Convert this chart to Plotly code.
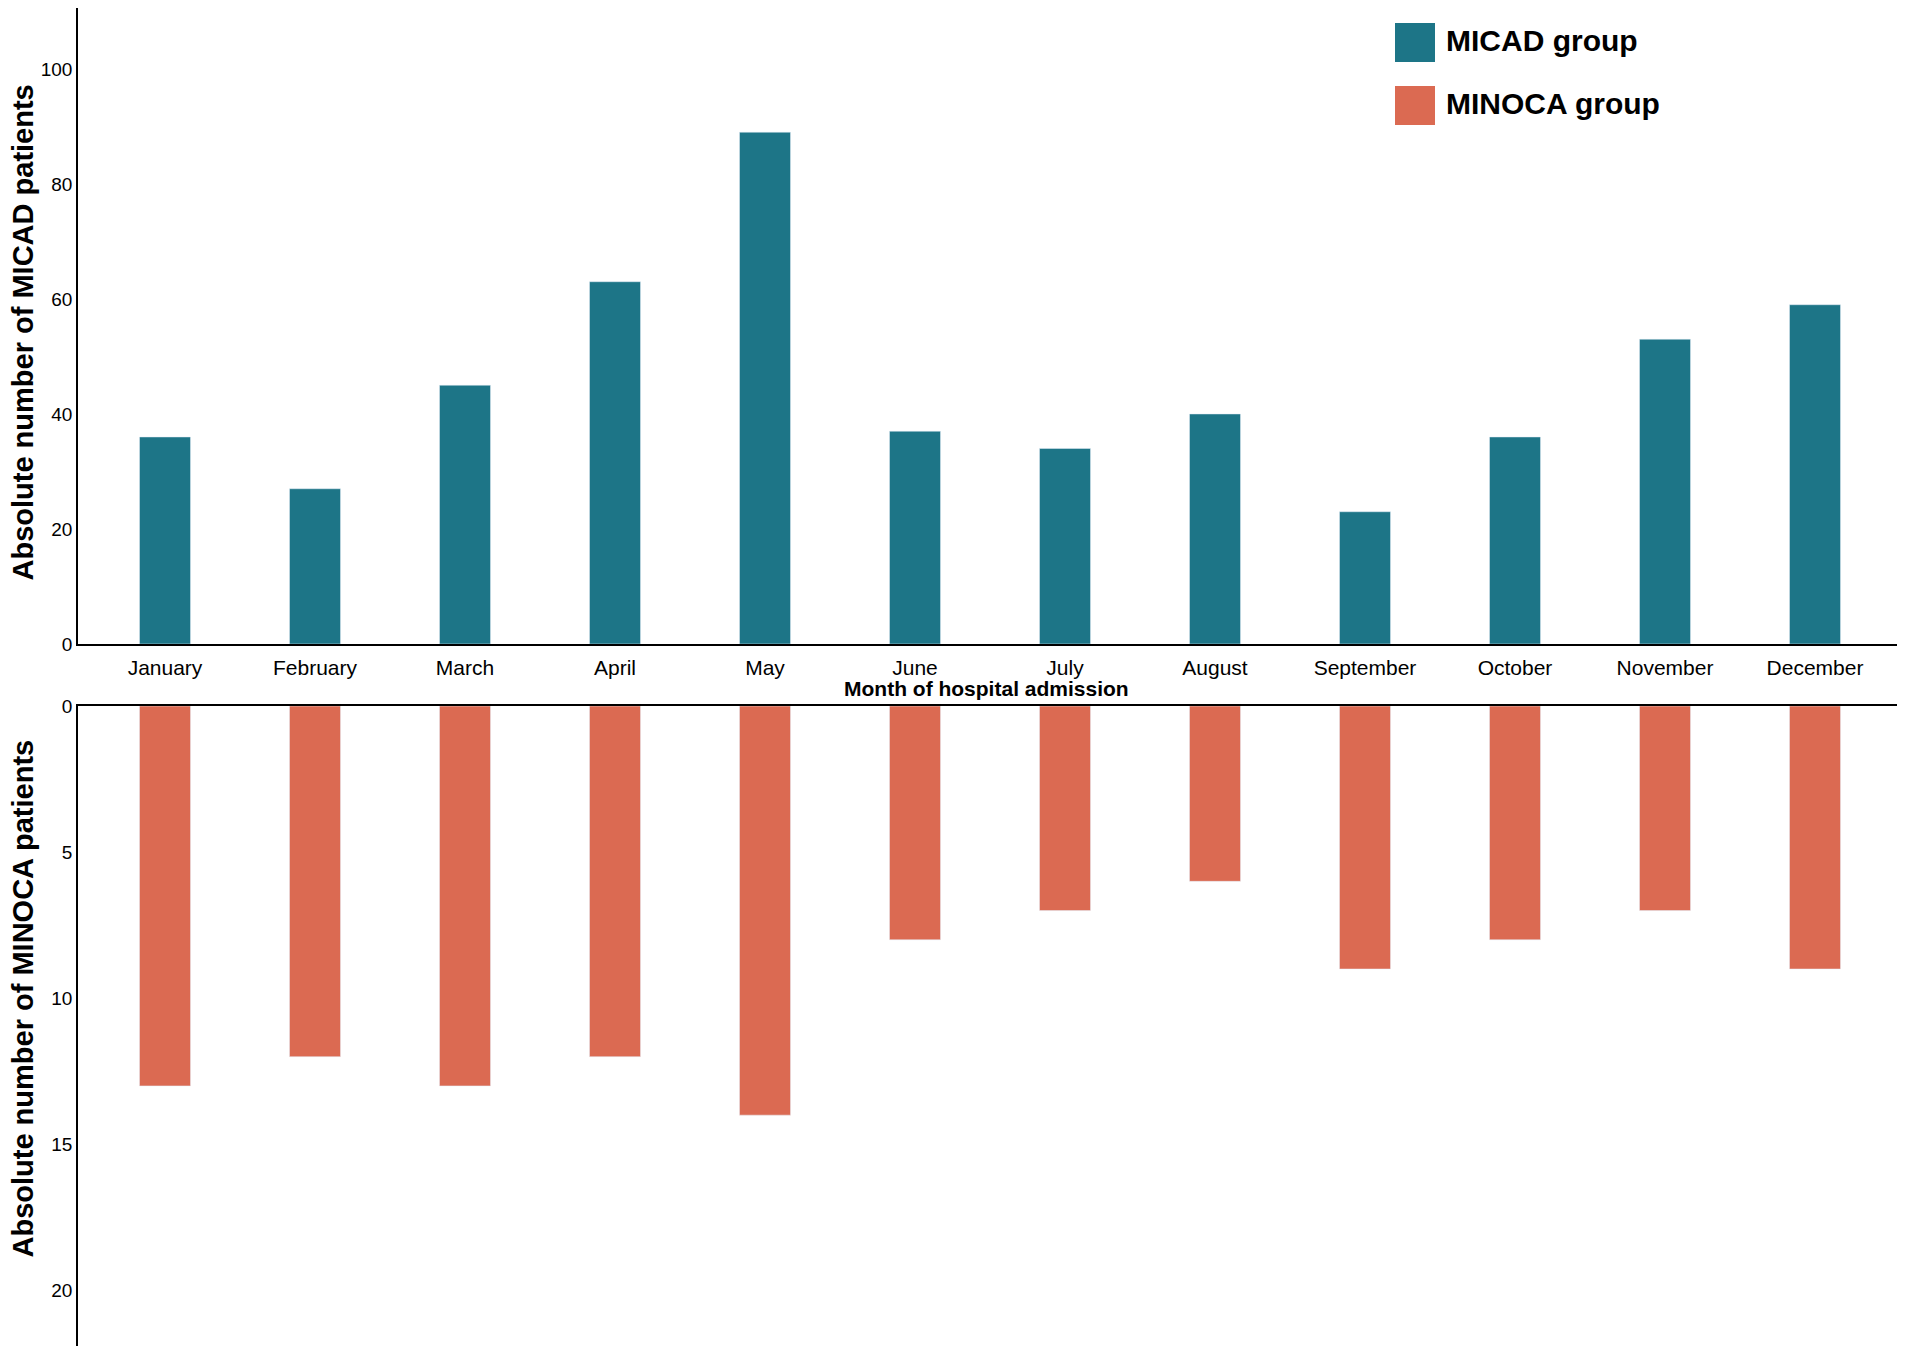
import plotly.graph_objects as go
from plotly.subplots import make_subplots

months = ["January", "February", "March", "April", "May", "June", "July",
          "August", "September", "October", "November", "December"]
micad = [36, 27, 45, 63, 89, 37, 34, 40, 23, 36, 53, 59]
minoca = [13, 12, 13, 12, 14, 8, 7, 6, 9, 8, 7, 9]
micad_ticks = [0, 20, 40, 60, 80, 100]
minoca_ticks = [0, 5, 10, 15, 20]

TEAL = "#1d7587"
CORAL = "#db6a52"
FONT = "Liberation Sans"

# The page body adds an 8px offset; the figure is sized to fill the window.
OFF = 8
W, H = 1905 - OFF, 1350 - OFF
L, R, T, B = 78 - OFF, 0, 0, 4
PW, PH = W - L - R, H - T - B


def px_x(x):
    """screen x -> paper x"""
    return (x - OFF - L) / PW


def px_y(y):
    """screen y -> paper y"""
    return (H - B - (y - OFF)) / PH


fig = make_subplots(rows=2, cols=1, vertical_spacing=0.0)

fig.add_trace(go.Bar(x=months, y=micad, marker_color=TEAL, width=0.34,
                     name="MICAD group", showlegend=False), row=1, col=1)
fig.add_trace(go.Bar(x=months, y=minoca, marker_color=CORAL, width=0.34,
                     name="MINOCA group", showlegend=False), row=2, col=1)

fig.update_layout(
    width=W, height=H,
    margin=dict(l=L, r=R, t=T, b=B, autoexpand=False),
    plot_bgcolor="white", paper_bgcolor="white",
    font=dict(family=FONT, color="black"),
)

fig.update_xaxes(range=[-0.58, 11.6], showgrid=False, zeroline=False,
                 showline=True, linecolor="black", linewidth=1.5, ticks="",
                 automargin=False)
fig.update_yaxes(automargin=False)
fig.update_layout(
    xaxis=dict(domain=[0, 1], tickfont=dict(size=21), anchor="y",
               ticklabelstandoff=4),
    xaxis2=dict(domain=[0, 1], side="top", showticklabels=False, anchor="y2",
                matches="x"),
    yaxis=dict(domain=[px_y(644), 1.0], range=[0, 110.6], tickvals=micad_ticks,
               showgrid=False, zeroline=False, showline=True, linecolor="black",
               linewidth=1.5, ticks="", tickfont=dict(size=19)),
    yaxis2=dict(domain=[0.0, px_y(706)], range=[21.9, 0], tickvals=minoca_ticks,
                showgrid=False, zeroline=False, showline=True, linecolor="black",
                linewidth=1.5, ticks="", tickfont=dict(size=19)),
)

# Axis titles
fig.add_annotation(xref="paper", yref="paper", x=px_x(22.5), y=px_y(333),
                   text="<b>Absolute number of MICAD patients</b>", textangle=-90,
                   showarrow=False, xanchor="center", yanchor="middle",
                   font=dict(size=29))
fig.add_annotation(xref="paper", yref="paper", x=px_x(22.5), y=px_y(999),
                   text="<b>Absolute number of MINOCA patients</b>", textangle=-90,
                   showarrow=False, xanchor="center", yanchor="middle",
                   font=dict(size=29))
fig.add_annotation(xref="paper", yref="paper", x=px_x(986), y=px_y(688),
                   text="<b>Month of hospital admission</b>",
                   showarrow=False, xanchor="center", yanchor="middle",
                   font=dict(size=21))

# Legend drawn as large swatches
legend_items = [("MICAD group", TEAL, 0), ("MINOCA group", CORAL, 1)]
for label, color, i in legend_items:
    y0 = 23 + i * 63
    fig.add_shape(type="rect", xref="paper", yref="paper",
                  x0=px_x(1395), x1=px_x(1435),
                  y0=px_y(y0 + 39), y1=px_y(y0),
                  fillcolor=color, line=dict(width=0))
    fig.add_annotation(xref="paper", yref="paper",
                       x=px_x(1444), y=px_y(y0 + 18),
                       text=f"<b>{label}</b>", showarrow=False,
                       xanchor="left", yanchor="middle",
                       font=dict(size=30, color="black"))

fig.write_html("out.html")
